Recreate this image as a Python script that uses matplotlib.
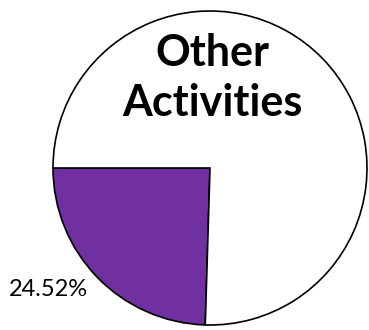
import matplotlib
matplotlib.use("Agg")
import matplotlib.pyplot as plt

labels = ["Other Activities", "Rest"]
shares = [24.52, 75.48]
colors = ["#7030a0", "white"]
title = "Other\nActivities"

plt.rcParams['font.family'] = ['Lato', 'DejaVu Sans']

fig = plt.figure(figsize=[3.69, 3.30], dpi=100)
ax = fig.add_axes([53/369, 5/330, 314/369, 314/330])

wedges, texts = ax.pie(shares, colors=colors, startangle=180, counterclock=True,
                       radius=1.0, labels=[f"{shares[0]:.2f}%", ""],
                       labeldistance=1.29,
                       wedgeprops={"edgecolor": "black", "linewidth": 1.2})
ax.set_xlim(-1, 1)
ax.set_ylim(-1, 1)
ax.set_aspect("equal")

# move percent label to where the reference puts it
texts[0].set_position((-1.026, -0.775))
texts[0].set_ha("center")
texts[0].set_va("center")
texts[0].set_fontsize(17)

fig.text(212/369, 1 - 33/330, title, ha="center", va="top",
         fontsize=31, fontweight="bold", linespacing=1.3)

fig.savefig("out.png", dpi=100)
